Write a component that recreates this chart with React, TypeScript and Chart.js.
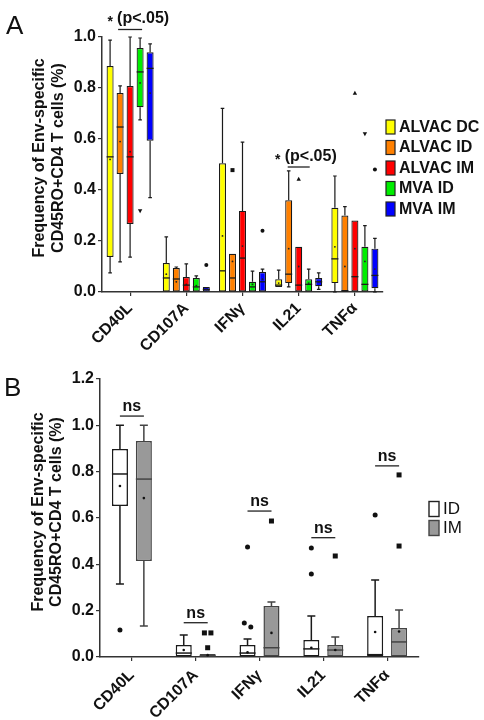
import React, { useEffect, useRef } from "react";
import { Chart, registerables } from "chart.js";

Chart.register(...registerables);

const FONT = "'Liberation Sans', Arial, Helvetica, sans-serif";

const categories = ["CD40L", "CD107A", "IFNγ", "IL21", "TNFα"];
const yTicksA = [0, 0.2, 0.4, 0.6, 0.8, 1.0];
const yTicksB = [0, 0.2, 0.4, 0.6, 0.8, 1.0, 1.2];

// Panel A series
const seriesNamesA = ["ALVAC DC", "ALVAC ID", "ALVAC IM", "MVA ID", "MVA IM"];
const seriesColorsA = ["#ffff00", "#ff8000", "#ff0000", "#00ee00", "#0000ff"];

// each row: [min, q1, median, q3, max, mean] per category
const alvacDcStats = [
  [0.075, 0.137, 0.53, 0.886, 0.988, 0.52],
  [0, 0, 0.055, 0.114, 0.216, 0.07],
  [0, 0, 0.083, 0.505, 0.72, 0.22],
  [0.02, 0.02, 0.027, 0.05, 0.086, 0.035],
  [0, 0.035, 0.13, 0.33, 0.455, 0.177],
];
const alvacIdStats = [
  [0.118, 0.463, 0.647, 0.78, 0.808, 0.59],
  [0, 0, 0.051, 0.094, 0.098, 0.04],
  [0, 0, 0.055, 0.15, 0.15, 0.12],
  [0.02, 0.035, 0.07, 0.36, 0.475, 0.17],
  [0, 0, 0.005, 0.3, 0.335, 0.1],
];
const alvacImStats = [
  [0.137, 0.267, 0.53, 0.808, 1.0, 0.55],
  [0, 0, 0.027, 0.059, 0.11, 0.03],
  [0, 0, 0.133, 0.318, 0.588, 0.18],
  [0, 0, 0.027, 0.177, 0.177, 0.1],
  [0, 0, 0.06, 0.28, 0.28, 0.17],
];
const mvaIdStats = [
  [0.675, 0.725, 0.863, 0.957, 0.996, 0.82],
  [0, 0, 0.02, 0.055, 0.063, 0.025],
  [0, 0, 0.02, 0.04, 0.082, 0.03],
  [0, 0, 0.03, 0.05, 0.09, 0.035],
  [0, 0, 0.03, 0.177, 0.26, 0.12],
];
const mvaImStats = [
  [0.37, 0.593, 0.877, 0.94, 0.973, 0.78],
  [0, 0, 0.01, 0.02, 0.02, 0.01],
  [0, 0, 0.04, 0.078, 0.09, 0.05],
  [0.01, 0.023, 0.04, 0.055, 0.075, 0.04],
  [0, 0.015, 0.065, 0.17, 0.21, 0.09],
];

// outliers: [categoryIndex, value, marker]
const alvacDcOutliers: any[] = [];
const alvacIdOutliers = [[2, 0.478, "square"]];
const alvacImOutliers = [
  [3, 0.443, "tri"],
  [4, 0.78, "tri"],
];
const mvaIdOutliers = [
  [0, 0.318, "itri"],
  [4, 0.62, "itri"],
];
const mvaImOutliers = [
  [1, 0.106, "dot"],
  [2, 0.24, "dot"],
  [4, 0.48, "dot"],
];

// Panel B series
const seriesNamesB = ["ID", "IM"];
const idStats = [
  [0.315, 0.652, 0.79, 0.898, 1.0, 0.738],
  [0, 0, 0.017, 0.052, 0.095, 0.03],
  [0, 0, 0.017, 0.052, 0.078, 0.02],
  [0, 0, 0.035, 0.073, 0.177, 0.04],
  [0, 0, 0.01, 0.177, 0.332, 0.108],
];
const imStats = [
  [0.134, 0.414, 0.768, 0.932, 1.0, 0.686],
  [0, 0, 0.005, 0.013, 0.013, 0.008],
  [0, 0, 0.04, 0.22, 0.237, 0.104],
  [0, 0, 0.03, 0.052, 0.086, 0.03],
  [0, 0, 0.065, 0.125, 0.203, 0.11],
];
const idOutliers = [
  [0, 0.117, "dot"],
  [2, 0.475, "dot"],
  [2, 0.13, "dot"],
  [2, 0.147, "dot"],
  [3, 0.47, "dot"],
  [3, 0.358, "dot"],
  [4, 0.613, "dot"],
];
const imOutliers = [
  [1, 0.104, "square"],
  [1, 0.104, "square"],
  [1, 0.04, "square"],
  [2, 0.587, "square"],
  [3, 0.436, "square"],
  [4, 0.786, "square"],
  [4, 0.479, "square"],
];

const statsA = [alvacDcStats, alvacIdStats, alvacImStats, mvaIdStats, mvaImStats];
const outliersA = [alvacDcOutliers, alvacIdOutliers, alvacImOutliers, mvaIdOutliers, mvaImOutliers];

function drawMarker(ctx: CanvasRenderingContext2D, shape: string, x: number, y: number, size: number) {
  ctx.beginPath();
  if (shape === "square") {
    ctx.rect(x - size / 2, y - size / 2, size, size);
  } else if (shape === "tri") {
    ctx.moveTo(x, y - size * 0.6);
    ctx.lineTo(x - size * 0.55, y + size * 0.4);
    ctx.lineTo(x + size * 0.55, y + size * 0.4);
    ctx.closePath();
  } else if (shape === "itri") {
    ctx.moveTo(x, y + size * 0.6);
    ctx.lineTo(x - size * 0.55, y - size * 0.4);
    ctx.lineTo(x + size * 0.55, y - size * 0.4);
    ctx.closePath();
  } else {
    ctx.arc(x, y, size / 2, 0, Math.PI * 2);
  }
  ctx.fill();
}

const boxPlugin = {
  id: "boxExtras",
  afterDatasetsDraw(chart: any) {
    const ctx = chart.ctx as CanvasRenderingContext2D;
    const ys = chart.scales.y;
    const p = (v: number) => ys.getPixelForValue(v);
    chart.data.datasets.forEach((ds: any, di: number) => {
      const meta = chart.getDatasetMeta(di);
      const st = ds.stats;
      meta.data.forEach((bar: any, j: number) => {
        const s = st[j];
        const x = bar.x;
        const w = bar.width;
        ctx.save();
        ctx.strokeStyle = ds.lineColor;
        ctx.lineWidth = ds.whiskerWidth;
        ctx.beginPath();
        if (s[4] > s[3]) {
          ctx.moveTo(x, p(s[3]));
          ctx.lineTo(x, p(s[4]));
          ctx.moveTo(x - ds.capHalf, p(s[4]));
          ctx.lineTo(x + ds.capHalf, p(s[4]));
        }
        if (s[0] < s[1]) {
          ctx.moveTo(x, p(s[1]));
          ctx.lineTo(x, p(s[0]));
          ctx.moveTo(x - ds.capHalf, p(s[0]));
          ctx.lineTo(x + ds.capHalf, p(s[0]));
        }
        ctx.stroke();
        ctx.beginPath();
        ctx.lineWidth = ds.medianWidth;
        ctx.moveTo(x - w / 2, p(s[2]));
        ctx.lineTo(x + w / 2, p(s[2]));
        ctx.stroke();
        ctx.fillStyle = ds.meanColor;
        ctx.beginPath();
        ctx.arc(x, p(s[5]), ds.meanR, 0, Math.PI * 2);
        ctx.fill();
        ctx.restore();
      });
      // outliers, spread horizontally when they overlap
      const byCat: Record<number, any[]> = {};
      (ds.outliers || []).forEach((o: any) => {
        (byCat[o[0]] = byCat[o[0]] || []).push(o);
      });
      Object.keys(byCat).forEach((k) => {
        const list = byCat[+k].slice().sort((a, b) => b[1] - a[1]);
        const bar = meta.data[+k];
        if (!bar) return;
        const clusters: any[][] = [];
        list.forEach((o) => {
          const last = clusters[clusters.length - 1];
          if (last && Math.abs(p(last[last.length - 1][1]) - p(o[1])) < 6) last.push(o);
          else clusters.push([o]);
        });
        ctx.save();
        ctx.fillStyle = ds.outlierColor;
        clusters.forEach((c) => {
          c.forEach((o, idx) => {
            const dx = (idx - (c.length - 1) / 2) * (ds.outlierSize + 1.5);
            drawMarker(ctx, o[2], bar.x + dx, p(o[1]), ds.outlierSize);
          });
        });
        ctx.restore();
      });
    });
  },
};

function drawText(ctx: CanvasRenderingContext2D, text: string, x: number, y: number, font: string, align: CanvasTextAlign = "left", color = "#111") {
  ctx.font = font;
  ctx.fillStyle = color;
  ctx.textAlign = align;
  ctx.textBaseline = "middle";
  ctx.fillText(text, x, y);
}

function drawLine(ctx: CanvasRenderingContext2D, x1: number, y1: number, x2: number, y2: number, color = "#222", w = 1.3) {
  ctx.beginPath();
  ctx.strokeStyle = color;
  ctx.lineWidth = w;
  ctx.moveTo(x1, y1);
  ctx.lineTo(x2, y2);
  ctx.stroke();
}

function drawYTitle(ctx: CanvasRenderingContext2D, lines: string[], xs: number[], cy: number, font: string) {
  ctx.save();
  lines.forEach((t, i) => {
    ctx.save();
    ctx.translate(xs[i], cy);
    ctx.rotate(-Math.PI / 2);
    drawText(ctx, t, 0, 0, font, "center");
    ctx.restore();
  });
  ctx.restore();
}

const yTitleLines = ["Frequency of Env-specific", "CD45RO+CD4 T cells (%)"];

const annotA = {
  id: "annotA",
  afterDraw(chart: any) {
    const ctx = chart.ctx as CanvasRenderingContext2D;
    ctx.save();
    ctx.font = `26px ${FONT}`;
    ctx.fillStyle = "#111";
    ctx.textAlign = "left";
    ctx.textBaseline = "alphabetic";
    ctx.fillText("A", 6, 34);
    drawYTitle(ctx, yTitleLines, [40, 59], 158, `bold 16px ${FONT}`);
    // legend
    const rows = [127, 147.5, 168, 188.5, 209];
    seriesNamesA.forEach((n, i) => {
      ctx.fillStyle = seriesColorsA[i];
      ctx.fillRect(386, rows[i] - 7, 9, 14);
      ctx.strokeStyle = "#222";
      ctx.lineWidth = 1.2;
      ctx.strokeRect(386, rows[i] - 7, 9, 14);
      drawText(ctx, n, 399, rows[i] + 0.5, `bold 16px ${FONT}`);
    });
    // significance marks
    const xs = chart.scales.x;
    const c0 = xs.getPixelForValue(0);
    const c3 = xs.getPixelForValue(3);
    drawText(ctx, "*", c0 - 20, 22, `bold 14px ${FONT}`, "center");
    drawText(ctx, "(p<.05)", c0 - 13, 19, `bold 16px ${FONT}`);
    drawLine(ctx, c0 - 12, 29.5, c0 + 12, 29.5);
    drawText(ctx, "*", c3 - 21, 160, `bold 14px ${FONT}`, "center");
    drawText(ctx, "(p<.05)", c3 - 14, 157, `bold 16px ${FONT}`);
    drawLine(ctx, c3 - 11, 167, c3 + 11, 167);
    ctx.restore();
  },
};

const annotB = {
  id: "annotB",
  afterDraw(chart: any) {
    const ctx = chart.ctx as CanvasRenderingContext2D;
    ctx.save();
    ctx.font = `26px ${FONT}`;
    ctx.fillStyle = "#111";
    ctx.textAlign = "left";
    ctx.textBaseline = "alphabetic";
    ctx.fillText("B", 4, 36);
    drawYTitle(ctx, yTitleLines, [39, 57], 152, `bold 16px ${FONT}`);
    // legend
    const rowsB = [149, 168];
    const fills = ["#ffffff", "#999999"];
    const strokes = ["#222", "#444"];
    seriesNamesB.forEach((n, i) => {
      ctx.fillStyle = fills[i];
      ctx.fillRect(429, rowsB[i] - 7.5, 10, 15);
      ctx.strokeStyle = strokes[i];
      ctx.lineWidth = 1.4;
      ctx.strokeRect(429, rowsB[i] - 7.5, 10, 15);
      drawText(ctx, n, 443, rowsB[i] + 0.5, `17px ${FONT}`);
    });
    // ns marks
    const xs = chart.scales.x;
    const ys = chart.scales.y;
    const nsLevels = [1.04, 0.148, 0.63, 0.515, 0.825];
    categories.forEach((_, i) => {
      const cx = xs.getPixelForValue(i);
      const ly = ys.getPixelForValue(nsLevels[i]);
      drawText(ctx, "ns", cx, ly - 9, `bold 16px ${FONT}`, "center");
      drawLine(ctx, cx - 12, ly, cx + 12, ly);
    });
    ctx.restore();
  },
};

const tickFont = { family: FONT, size: 16, weight: "bold" as const };
const xTickFont = { family: FONT, size: 16, weight: "bold" as const };

function axisCommon(extra: any) {
  return {
    grid: { display: true, drawOnChartArea: false, tickLength: 4, color: "#333", lineWidth: 1.2 },
    border: { display: true, color: "#333", width: 1.5 },
    ...extra,
  };
}

function buildA(canvas: HTMLCanvasElement) {
  return new Chart(canvas, {
    type: "bar",
    data: {
      labels: categories,
      datasets: seriesNamesA.map((name, i) => ({
        label: name,
        data: statsA[i].map((s) => [s[1], s[3]]),
        backgroundColor: seriesColorsA[i],
        borderColor: "#1a1a1a",
        borderWidth: 1.2,
        borderSkipped: false,
        barPercentage: 0.7,
        categoryPercentage: 0.89,
        stats: statsA[i],
        outliers: outliersA[i],
        lineColor: "#1a1a1a",
        whiskerWidth: 1.2,
        medianWidth: 1.3,
        capHalf: 1.8,
        meanColor: "#222",
        meanR: 0.9,
        outlierColor: "#111",
        outlierSize: 4,
      })) as any,
    },
    options: {
      responsive: false,
      animation: false,
      layout: { padding: { top: 37, right: 101, left: 0, bottom: 0 } },
      plugins: { legend: { display: false }, tooltip: { enabled: false } },
      scales: {
        x: axisCommon({
          grid: { display: true, drawOnChartArea: false, offset: false, tickLength: 4, color: "#333", lineWidth: 1.2 },
          ticks: { font: xTickFont, color: "#111", minRotation: 45, maxRotation: 45, padding: 3 },
          afterFit: (s: any) => {
            s.height = 68;
          },
        }),
        y: axisCommon({
          min: 0,
          max: 1,
          afterBuildTicks: (s: any) => {
            s.ticks = yTicksA.map((v) => ({ value: v }));
          },
          ticks: { font: tickFont, color: "#111", padding: 2, callback: (v: any) => Number(v).toFixed(1) },
          afterFit: (s: any) => {
            s.width = 102;
          },
        }),
      },
    } as any,
    plugins: [boxPlugin, annotA],
  });
}

function buildB(canvas: HTMLCanvasElement) {
  const statsB = [idStats, imStats];
  const outliersB = [idOutliers, imOutliers];
  const fills = ["#ffffff", "#999999"];
  const strokes = ["#1a1a1a", "#444444"];
  return new Chart(canvas, {
    type: "bar",
    data: {
      labels: categories,
      datasets: seriesNamesB.map((name, i) => ({
        label: name,
        data: statsB[i].map((s) => [s[1], s[3]]),
        backgroundColor: fills[i],
        borderColor: strokes[i],
        borderWidth: 1.5,
        borderSkipped: false,
        barPercentage: 0.67,
        categoryPercentage: 0.75,
        stats: statsB[i],
        outliers: outliersB[i],
        lineColor: strokes[i],
        whiskerWidth: 1.5,
        medianWidth: 1.5,
        capHalf: 4,
        meanColor: "#111",
        meanR: 1.3,
        outlierColor: "#111",
        outlierSize: 5,
      })) as any,
    },
    options: {
      responsive: false,
      animation: false,
      layout: { padding: { top: 19, right: 65, left: 0, bottom: 0 } },
      plugins: { legend: { display: false }, tooltip: { enabled: false } },
      scales: {
        x: axisCommon({
          grid: { display: true, drawOnChartArea: false, offset: false, tickLength: 4, color: "#333", lineWidth: 1.2 },
          ticks: { font: xTickFont, color: "#111", minRotation: 45, maxRotation: 45, padding: 5 },
          afterFit: (s: any) => {
            s.height = 63;
          },
        }),
        y: axisCommon({
          min: 0,
          max: 1.2,
          afterBuildTicks: (s: any) => {
            s.ticks = yTicksB.map((v) => ({ value: v }));
          },
          ticks: { font: tickFont, color: "#111", padding: 2, callback: (v: any) => Number(v).toFixed(1) },
          afterFit: (s: any) => {
            s.width = 100;
          },
        }),
      },
    } as any,
    plugins: [boxPlugin, annotB],
  });
}

export default function App() {
  const refA = useRef<HTMLCanvasElement>(null);
  const refB = useRef<HTMLCanvasElement>(null);
  useEffect(() => {
    const a = buildA(refA.current!);
    const b = buildB(refB.current!);
    return () => {
      a.destroy();
      b.destroy();
    };
  }, []);
  return (
    <div style={{ position: "absolute", left: 0, top: 0, width: 484, height: 720, background: "#fff" }}>
      <canvas ref={refA} width={484} height={360} style={{ position: "absolute", left: 0, top: 0, width: 484, height: 360 }} />
      <canvas ref={refB} width={484} height={360} style={{ position: "absolute", left: 0, top: 360, width: 484, height: 360 }} />
    </div>
  );
}
